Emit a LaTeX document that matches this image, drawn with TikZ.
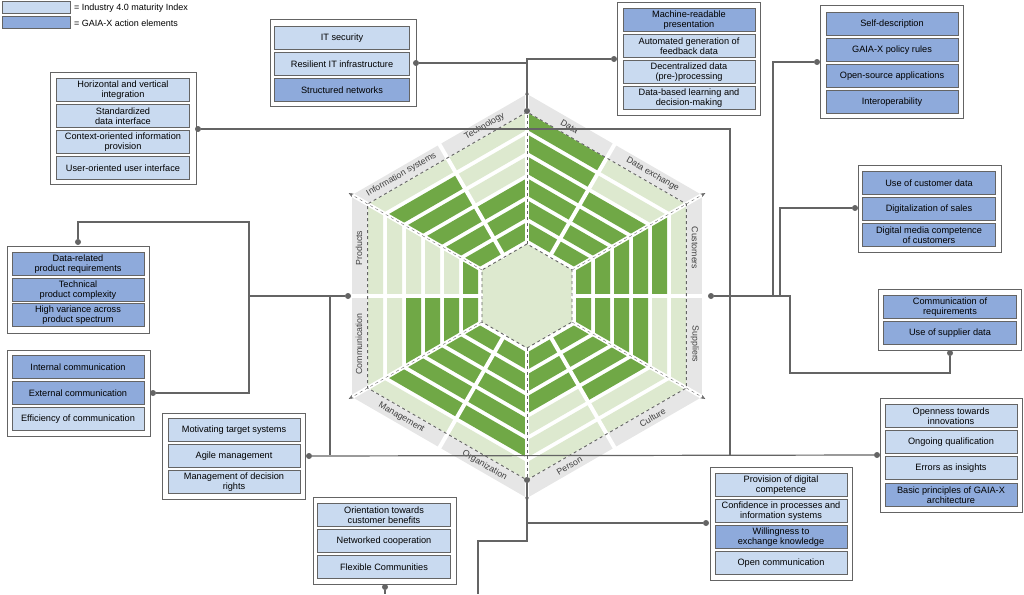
\documentclass[tikz,border=0pt]{standalone}
\usepackage{fontspec}
\setmainfont{Liberation Sans}
\usepackage{tikz}
\usetikzlibrary{calc,arrows.meta,positioning}

\definecolor{cellblue}{RGB}{201,218,240}
\definecolor{gaiablue}{RGB}{142,170,219}
\definecolor{bardark}{RGB}{112,168,70}
\definecolor{barlight}{RGB}{221,233,207}
\definecolor{bandgray}{RGB}{230,230,230}
\definecolor{linegray}{RGB}{100,100,100}

\tikzset{
  cell/.style={draw=linegray, line width=1pt, minimum height=23pt, inner sep=1pt,
    align=center, font=\fontsize{9.2}{10.5}\selectfont},
  cellL/.style={cell, fill=cellblue},
  cellD/.style={cell, fill=gaiablue},
  frame/.style={draw=linegray, line width=1pt, fill=white},
  link/.style={draw=linegray, line width=1.2pt},
  dot/.style={circle, fill=linegray, inner sep=0pt, minimum size=6pt},
  hexlabel/.style={font=\fontsize{8.8}{10}\selectfont, text=black!75}
}

\begin{document}
\begin{tikzpicture}[x=1pt, y=-1pt]
  \useasboundingbox (0,0) rectangle (1024,594);

  % Legend
  \node[cellL, minimum width=68pt, minimum height=12pt] (keyL) at (36,8) {};
  \node[cellD, minimum width=68pt, minimum height=12pt] (keyD) at (36,23) {};
  \node[right, font=\fontsize{9}{10}\selectfont] at (keyL.east) {= Industry 4.0 maturity Index};
  \node[right, font=\fontsize{9}{10}\selectfont] at (keyD.east) {= GAIA-X action elements};

  % Maturity hexagon
  \begin{scope}[shift={(527,296)}]
    \fill[bandgray] (90:202) \foreach \a in {30,-30,...,-210} {-- (\a:202)} -- cycle;
    \fill[white] (90:184) \foreach \a in {30,-30,...,-210} {-- (\a:184)} -- cycle;
    \foreach \th/\la/\lb/\na/\nb/\rot in {60/6/4/Data/Data exchange/-30,
        0/5/4/Customers/Suppliers/-90, -60/4/3/Culture/Person/30,
        -120/5/5/Organization/Management/-30, 180/4/1/Communication/Products/90,
        120/5/3/Information systems/Technology/30} {
      \begin{scope}[rotate=\th]
        \foreach \k in {1,...,6} {
          \pgfmathsetmacro\ai{30+19*\k}
          \pgfmathsetmacro\ao{\ai+15}
          \pgfmathsetmacro\ti{\ai/sqrt(3)}
          \pgfmathsetmacro\to{\ao/sqrt(3)}
          \ifnum\k>\la \def\ca{barlight}\else \def\ca{bardark}\fi
          \ifnum\k>\lb \def\cb{barlight}\else \def\cb{bardark}\fi
          \fill[\ca] (\ai,0) -- (\ao,0) -- (\ao,-\to) -- (\ai,-\ti) -- cycle;
          \fill[\cb] (\ai,0) -- (\ao,0) -- (\ao,\to) -- (\ai,\ti) -- cycle;
        }
        \node[hexlabel, rotate=\rot] at (168,-48) {\na};
        \node[hexlabel, rotate=\rot] at (168,48) {\nb};
      \end{scope}
    }
    \fill[barlight] (90:52) \foreach \a in {30,-30,...,-210} {-- (\a:52)} -- cycle;
    \foreach \a in {0,60,...,300} {
      \draw[white, line width=4pt] (\a:44) -- (\a:205);
      \draw[white, line width=4pt] (\a+30:52) -- (\a+30:203);
      \draw[linegray, dashed, -{Stealth[length=5pt]}] (\a+30:52) -- (\a+30:206);
    }
    \draw[linegray, dashed, line width=0.9pt] (90:52) \foreach \a in {30,-30,...,-210} {-- (\a:52)} -- cycle;
    \draw[linegray, dashed, line width=0.9pt] (90:184) \foreach \a in {30,-30,...,-210} {-- (\a:184)} -- cycle;
  \end{scope}

  % Technology
  \draw[frame] (270,20) rectangle (416,106);
  \node[cellL, minimum width=135pt] (itsec) at (342,38) {IT security};
  \node[cellL, minimum width=135pt] (itinfra) at (342,64) {Resilient IT infrastructure};
  \node[cellD, minimum width=135pt] (itnet) at (342,90) {Structured networks};

  % Information systems
  \draw[frame] (50,72) rectangle (196,184);
  \node[cellL, minimum width=133pt] (is1) at (123,90) {Horizontal and vertical\\integration};
  \node[cellL, minimum width=133pt] (is2) at (123,116) {Standardized\\data interface};
  \node[cellL, minimum width=133pt] (is3) at (123,142) {Context-oriented information\\provision};
  \node[cellL, minimum width=133pt] (is4) at (123,168) {User-oriented user interface};

  % Data
  \draw[frame] (617,3) rectangle (760,115);
  \node[cellD, minimum width=132pt] (da1) at (689,20) {Machine-readable\\presentation};
  \node[cellL, minimum width=132pt] (da2) at (689,46) {Automated generation of\\feedback data};
  \node[cellL, minimum width=132pt] (da3) at (689,72) {Decentralized data\\(pre-)processing};
  \node[cellL, minimum width=132pt] (da4) at (689,98) {Data-based learning and\\decision-making};

  % Data exchange
  \draw[frame] (820,6) rectangle (963,118);
  \node[cellD, minimum width=132pt] (dx1) at (892,24) {Self-description};
  \node[cellD, minimum width=132pt] (dx2) at (892,50) {GAIA-X policy rules};
  \node[cellD, minimum width=132pt] (dx3) at (892,76) {Open-source applications};
  \node[cellD, minimum width=132pt] (dx4) at (892,102) {Interoperability};

  % Customers
  \draw[frame] (858,165) rectangle (1001,252);
  \node[cellD, minimum width=133pt] (cu1) at (929,183) {Use of customer data};
  \node[cellD, minimum width=133pt] (cu2) at (929,209) {Digitalization of sales};
  \node[cellD, minimum width=133pt] (cu3) at (929,235) {Digital media competence\\of customers};

  % Suppliers
  \draw[frame] (878,289) rectangle (1021,350);
  \node[cellD, minimum width=133pt] (su1) at (950,307) {Communication of\\requirements};
  \node[cellD, minimum width=133pt] (su2) at (950,333) {Use of supplier data};

  % Culture
  \draw[frame] (880,398) rectangle (1022,512);
  \node[cellL, minimum width=132pt] (cl1) at (951,416) {Openness towards\\innovations};
  \node[cellL, minimum width=132pt] (cl2) at (951,442) {Ongoing qualification};
  \node[cellL, minimum width=132pt] (cl3) at (951,468) {Errors as insights};
  \node[cellD, minimum width=132pt] (cl4) at (951,495) {Basic principles of GAIA-X\\architecture};

  % Person
  \draw[frame] (710,467) rectangle (852,580);
  \node[cellL, minimum width=132pt] (pe1) at (781,485) {Provision of digital\\competence};
  \node[cellL, minimum width=132pt] (pe2) at (781,511) {Confidence in processes and\\information systems};
  \node[cellD, minimum width=132pt] (pe3) at (781,537) {Willingness to\\exchange knowledge};
  \node[cellL, minimum width=132pt] (pe4) at (781,563) {Open communication};

  % Organization
  \draw[frame] (313,497) rectangle (456,584);
  \node[cellL, minimum width=133pt] (or1) at (384,515) {Orientation towards\\customer benefits};
  \node[cellL, minimum width=133pt] (or2) at (384,541) {Networked cooperation};
  \node[cellL, minimum width=133pt] (or3) at (384,567) {Flexible Communities};

  % Management
  \draw[frame] (162,413) rectangle (305,499);
  \node[cellL, minimum width=132pt] (ma1) at (234,430) {Motivating target systems};
  \node[cellL, minimum width=132pt] (ma2) at (234,456) {Agile management};
  \node[cellL, minimum width=132pt] (ma3) at (234,482) {Management of decision\\rights};

  % Communication
  \draw[frame] (7,350) rectangle (150,436);
  \node[cellD, minimum width=132pt] (co1) at (78,367) {Internal communication};
  \node[cellD, minimum width=132pt] (co2) at (78,393) {External communication};
  \node[cellL, minimum width=132pt] (co3) at (78,419) {Efficiency of communication};

  % Products
  \draw[frame] (7,246) rectangle (149,333);
  \node[cellD, minimum width=132pt] (pr1) at (78,264) {Data-related\\product requirements};
  \node[cellD, minimum width=132pt] (pr2) at (78,290) {Technical\\product complexity};
  \node[cellD, minimum width=132pt] (pr3) at (78,315) {High variance across\\product spectrum};

  % Connectors
  \node[dot] (dTop) at (527,111) {};
  \node[dot] (dBot) at (527,480) {};
  \node[dot] (dLeft) at (348,296) {};
  \node[dot] (dRight) at (711,296) {};
  \node[dot] (dTech) at (416,63) {};
  \node[dot] (dData) at (614,59) {};
  \node[dot] (dInfo) at (198,129) {};
  \node[dot] (dExch) at (817,62) {};
  \node[dot] (dCust) at (855,208) {};
  \node[dot] (dSupp) at (950,353) {};
  \node[dot] (dCult) at (877,455) {};
  \node[dot] (dPers) at (706,523) {};
  \node[dot] (dOrga) at (385,587) {};
  \node[dot] (dMana) at (309,456) {};
  \node[dot] (dComm) at (153,393) {};
  \node[dot] (dProd) at (78,242) {};
  \coordinate (bottomA) at (478,594);
  \coordinate (bottomB) at (385,594);

  \draw[link] (dTech) -| (dTop);
  \draw[link] (dData) -| (527,63);
  \draw[link] (dInfo) -| (730,455);
  \draw[link] (dMana) -- (dCult);
  \draw[link] (dLeft) -- (249,296);
  \draw[link] (dProd) |- (249,222) -- (249,393) -- (dComm);
  \draw[link] (330,296) -- (330,455);
  \draw[link] (dRight) -- (790,296) -- (790,373) -| (dSupp);
  \draw[link] (773,296) |- (dExch);
  \draw[link] (780,296) |- (dCust);
  \draw[link] (dBot) -- (527,541) -| (bottomA);
  \draw[link] (527,523) -- (dPers);
  \draw[link] (dOrga) -- (bottomB);
\end{tikzpicture}
\end{document}
